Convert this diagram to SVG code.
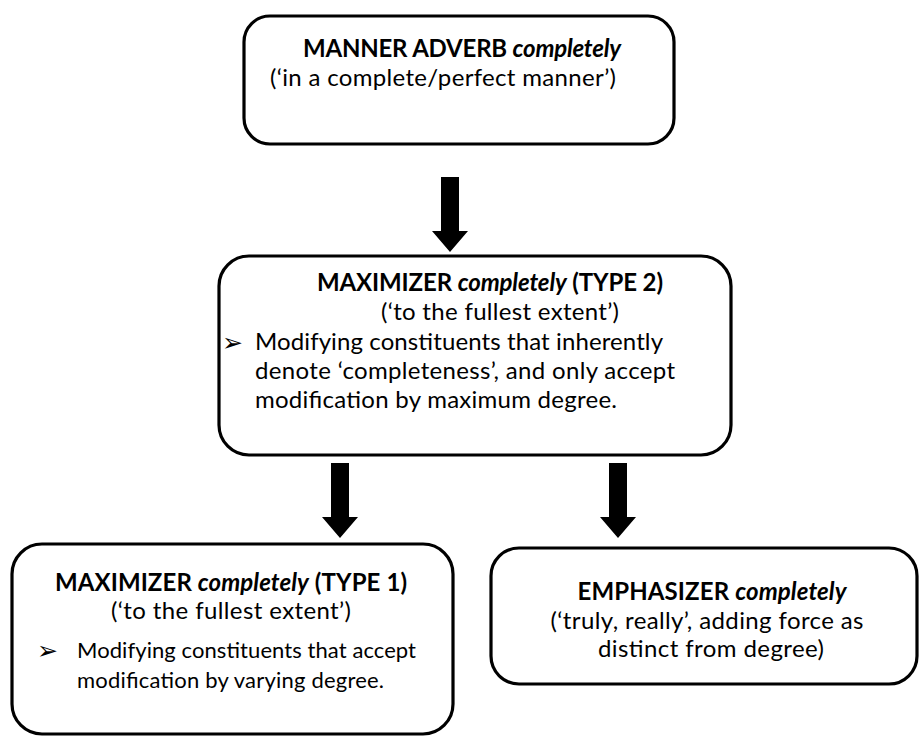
<svg xmlns="http://www.w3.org/2000/svg" width="921" height="736" viewBox="0 0 921 736">
  <style>
    .box { fill: #ffffff; stroke: #000000; stroke-width: 3.2; }
    .arrow { fill: #000000; stroke: none; }
    text { font-family: Lato, "Open Sans", "Liberation Sans", sans-serif; font-size: 24px; fill: #000000; }
    .b { font-weight: bold; }
    .i { font-style: italic; }
    .c { text-anchor: middle; }
    .sm { font-size: 22px; }
    .bullet { font-family: "DejaVu Sans", sans-serif; font-size: 25px; }
  </style>
  <rect width="921" height="736" fill="#ffffff"/>

  <!-- connectors: block arrows between levels -->
  <g id="connectors">
    <polygon class="arrow" points="441,177 459,177 459,231 468,231 450,252 432,231 441,231"/>
    <polygon class="arrow" points="331,463 349,463 349,517 358,517 340,538 322,517 331,517"/>
    <polygon class="arrow" points="609,463 627,463 627,517 636,517 618,538 600,517 609,517"/>
  </g>

  <!-- top: manner adverb -->
  <g id="manner-adverb">
    <rect class="box" x="244" y="16" width="430" height="128" rx="26" ry="26"/>
    <text x="462" y="57" textLength="318" class="b c">MANNER ADVERB <tspan class="i">completely</tspan></text>
    <text x="443" y="86" textLength="346" class="c">(‘in a complete/perfect manner’)</text>
  </g>

  <!-- middle: maximizer type 2 -->
  <g id="maximizer-type2">
    <rect class="box" x="219" y="256" width="512" height="199" rx="30" ry="30"/>
    <text x="490" y="291" textLength="346" class="b c">MAXIMIZER <tspan class="i">completely</tspan> (TYPE 2)</text>
    <text x="500" y="320" textLength="238" class="c">(‘to the fullest extent’)</text>
    <text x="222" y="351" class="bullet">➢</text>
    <text x="255" y="350" textLength="408">Modifying constituents that inherently</text>
    <text x="255" y="379" textLength="420">denote ‘completeness’, and only accept</text>
    <text x="255" y="408" textLength="362">modification by maximum degree.</text>
  </g>

  <!-- bottom left: maximizer type 1 -->
  <g id="maximizer-type1">
    <rect class="box" x="12" y="544" width="441" height="190" rx="30" ry="30"/>
    <text x="231" y="591" textLength="352" class="b c">MAXIMIZER <tspan class="i">completely</tspan> (TYPE 1)</text>
    <text x="231" y="619" textLength="240" class="c">(‘to the fullest extent’)</text>
    <text x="37" y="659" class="bullet">➢</text>
    <text x="77" y="658" textLength="339" class="sm">Modifying constituents that accept</text>
    <text x="77" y="688" textLength="307" class="sm">modification by varying degree.</text>
  </g>

  <!-- bottom right: emphasizer -->
  <g id="emphasizer">
    <rect class="box" x="491" y="548" width="426" height="136" rx="28" ry="28"/>
    <text x="712" y="600" textLength="269" class="b c">EMPHASIZER <tspan class="i">completely</tspan></text>
    <text x="707" y="629" textLength="313" class="c">(‘truly, really’, adding force as</text>
    <text x="711" y="657" textLength="226" class="c">distinct from degree)</text>
  </g>
</svg>
